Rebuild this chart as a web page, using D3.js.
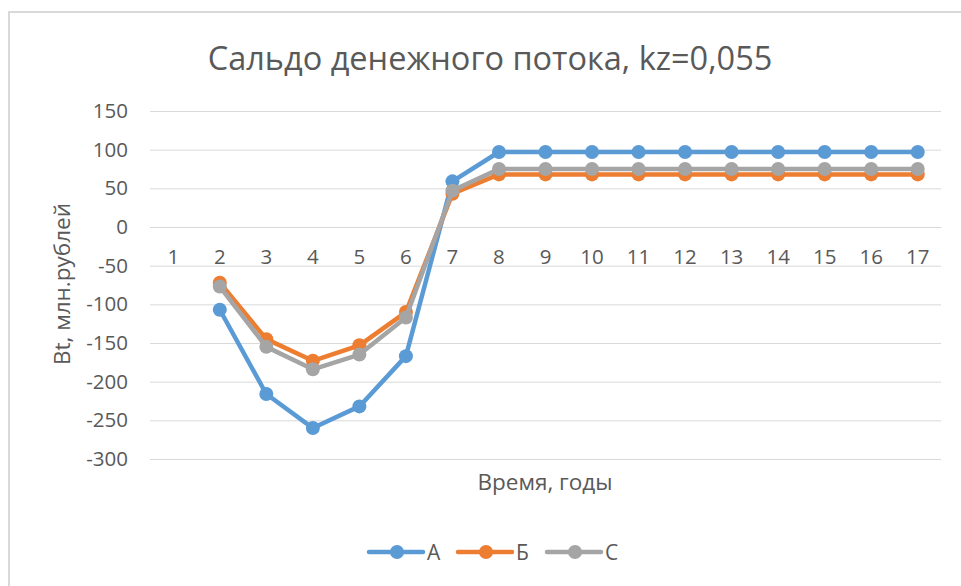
<!DOCTYPE html>
<html>
<head>
<meta charset="utf-8">
<script src="https://cdn.jsdelivr.net/npm/d3@7"></script>
<style>
  body { margin: 0; background: #fff; }
  svg text { font-family: "Open Sans", "Noto Sans", sans-serif; fill: #595959; }
</style>
</head>
<body>
<div id="chart"></div>
<script>
// data
var years = [1, 2, 3, 4, 5, 6, 7, 8, 9, 10, 11, 12, 13, 14, 15, 16, 17];
var seriesA = [null, -107, -216, -260, -232, -167, 59, 97, 97, 97, 97, 97, 97, 97, 97, 97, 97];
var seriesB = [null, -72, -145, -173, -153, -110, 43, 68, 68, 68, 68, 68, 68, 68, 68, 68, 68];
var seriesC = [null, -77, -155, -184, -165, -117, 47, 75, 75, 75, 75, 75, 75, 75, 75, 75, 75];
var yTicks = [150, 100, 50, 0, -50, -100, -150, -200, -250, -300];
var seriesNames = ["А", "Б", "С"];
var colors = ["#5b9bd5", "#ed7d31", "#a5a5a5"];

var width = 961, height = 586;
var plot = {left: 150, right: 941, top: 111, bottom: 459};

var svg = d3.select("#chart").append("svg")
  .attr("width", width)
  .attr("height", height);

// chart area border (cropped on the right and bottom in the original)
svg.append("rect")
  .attr("x", 9).attr("y", 12)
  .attr("width", 1000).attr("height", 620)
  .attr("fill", "#fff")
  .attr("stroke", "#d9d9d9")
  .attr("stroke-width", 2);

var x = d3.scaleBand().domain(years).range([plot.left, plot.right]);
var y = d3.scaleLinear().domain([-300, 150]).range([plot.bottom, plot.top]);

// gridlines + y labels (plain hyphen like excel)
var yAxis = d3.axisLeft(y).tickValues(yTicks)
  .tickFormat(d => String(d))
  .tickSize(-(plot.right - plot.left)).tickPadding(22);
var gy = svg.append("g")
  .attr("transform", `translate(${plot.left},0)`)
  .call(yAxis);
gy.select(".domain").remove();
gy.selectAll("line").attr("stroke", "#d9d9d9").attr("stroke-width", 1);
gy.selectAll("text").style("font-size", "20.5px").attr("fill", "#595959");

// category axis at zero
var xAxis = d3.axisBottom(x).tickSize(0).tickPadding(22);
var gx = svg.append("g")
  .attr("transform", `translate(0,${y(0)})`)
  .call(xAxis);
gx.select(".domain").attr("stroke", "#d9d9d9");
gx.selectAll("text").style("font-size", "20.5px").attr("fill", "#595959");

// series
var allSeries = [seriesA, seriesB, seriesC];
var line = d3.line()
  .defined(d => d != null)
  .x((d, i) => x(years[i]) + x.bandwidth() / 2)
  .y(d => y(d));

allSeries.forEach(function(vals, k) {
  var g = svg.append("g");
  g.append("path")
    .datum(vals)
    .attr("fill", "none")
    .attr("stroke", colors[k])
    .attr("stroke-width", 4.5)
    .attr("stroke-linejoin", "round")
    .attr("d", line);
  g.selectAll("circle")
    .data(vals.map((v, i) => ({v: v, i: i})).filter(d => d.v != null))
    .enter().append("circle")
    .attr("cx", d => x(years[d.i]) + x.bandwidth() / 2)
    .attr("cy", d => y(d.v))
    .attr("r", 7)
    .attr("fill", colors[k]);
});

// title
svg.append("text")
  .attr("x", 490).attr("y", 70)
  .attr("text-anchor", "middle")
  .style("font-size", "32.5px")
  .text("Сальдо денежного потока, kz=0,055");

// axis titles
svg.append("text")
  .attr("transform", "translate(70,284) rotate(-90)")
  .attr("text-anchor", "middle")
  .style("font-size", "22.5px")
  .text("Bt, млн.рублей");

svg.append("text")
  .attr("x", 545).attr("y", 490)
  .attr("text-anchor", "middle")
  .style("font-size", "22.5px")
  .text("Время, годы");

// legend
var legendX = [369, 458, 547];
var lg = svg.append("g").selectAll("g")
  .data(seriesNames)
  .enter().append("g")
  .attr("transform", (d, i) => `translate(${legendX[i]},552)`);
lg.append("line")
  .attr("x1", 0).attr("x2", 54)
  .attr("stroke", (d, i) => colors[i])
  .attr("stroke-width", 4.5)
  .attr("stroke-linecap", "round");
lg.append("circle")
  .attr("cx", 28).attr("r", 7)
  .attr("fill", (d, i) => colors[i]);
lg.append("text")
  .attr("x", 58).attr("y", 8)
  .style("font-size", "21px")
  .text(d => d);
</script>
</body>
</html>
